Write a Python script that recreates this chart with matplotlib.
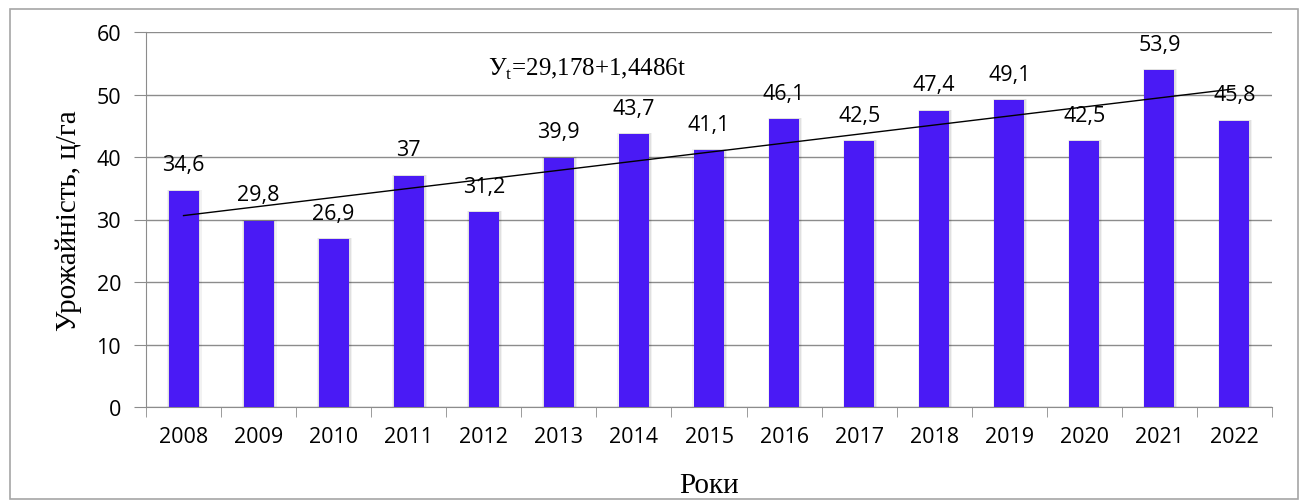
import numpy as np
import matplotlib
matplotlib.use("Agg")
import matplotlib.pyplot as plt
from matplotlib.patches import Rectangle

years = ["2008", "2009", "2010", "2011", "2012", "2013", "2014", "2015",
         "2016", "2017", "2018", "2019", "2020", "2021", "2022"]
yields = [34.6, 29.8, 26.9, 37, 31.2, 39.9, 43.7, 41.1,
          46.1, 42.5, 47.4, 49.1, 42.5, 53.9, 45.8]
labels = ["34,6", "29,8", "26,9", "37", "31,2", "39,9", "43,7", "41,1",
          "46,1", "42,5", "47,4", "49,1", "42,5", "53,9", "45,8"]
y_ticks = [0, 10, 20, 30, 40, 50, 60]

fig = plt.figure(figsize=(13.02, 5.02), dpi=100)
ax = fig.add_axes([146/1302, 1-408/502, (1272-146)/1302, (408-33)/502])

# outer frame
fig.patches.append(Rectangle((10/1302, 2/502), 1288/1302, 490/502, transform=fig.transFigure,
                             fill=False, edgecolor="#a6a6a6", linewidth=1.2))

x = np.arange(len(years))
bar_color = "#4a1af5"
# soft shadow
for w, a in [(0.46, 0.05), (0.43, 0.07)]:
    ax.bar(x + 0.01, [v + 0.15 for v in yields], width=w, color="black", alpha=a,
           zorder=2, linewidth=0)
ax.bar(x, yields, width=0.4, color=bar_color, zorder=3, linewidth=0)

# trend line
t = np.arange(1, len(years) + 1)
b, a0 = np.polyfit(t, yields, 1)
ax.plot(x, a0 + b * t, color="black", linewidth=1.0, zorder=4)

for xi, v, lab in zip(x, yields, labels):
    ax.annotate(lab, (xi, v), xytext=(0, 11), textcoords="offset points",
                ha="center", va="bottom", fontsize=15.5, family="Open Sans", zorder=5)

ax.text(4.05, 54.2, r"У$_{\mathregular{t}}$=29,178+1,4486t", fontsize=18,
        family="Liberation Serif", ha="left", va="center")

ax.set_ylim(0, 60)
ax.set_xlim(-0.5, len(years) - 0.5)
ax.set_yticks(y_ticks)
ax.set_yticklabels([str(v) for v in y_ticks], fontsize=15.5, family="Open Sans")
ax.set_xticks(x)
ax.set_xticklabels(years, fontsize=15.5, family="Open Sans")
ax.set_xticks(np.arange(-0.5, len(years), 1), minor=True)
ax.tick_params(axis="x", which="major", length=0, pad=14)
ax.tick_params(axis="x", which="minor", length=7, color="#8c8c8c", direction="out")
ax.tick_params(axis="y", length=9, color="#8c8c8c", direction="out", pad=9)
ax.grid(axis="y", color="#8c8c8c", linewidth=1.0, zorder=0)
ax.set_axisbelow(True)
for s in ["top", "right"]:
    ax.spines[s].set_visible(False)
for s in ["left", "bottom"]:
    ax.spines[s].set_color("#8c8c8c")

ax.set_ylabel("Урожайність, ц/га", fontsize=21, family="Liberation Serif", labelpad=10)
ax.set_xlabel("Роки", fontsize=21, family="Liberation Serif", labelpad=18)

fig.savefig("out.png", dpi=100)
